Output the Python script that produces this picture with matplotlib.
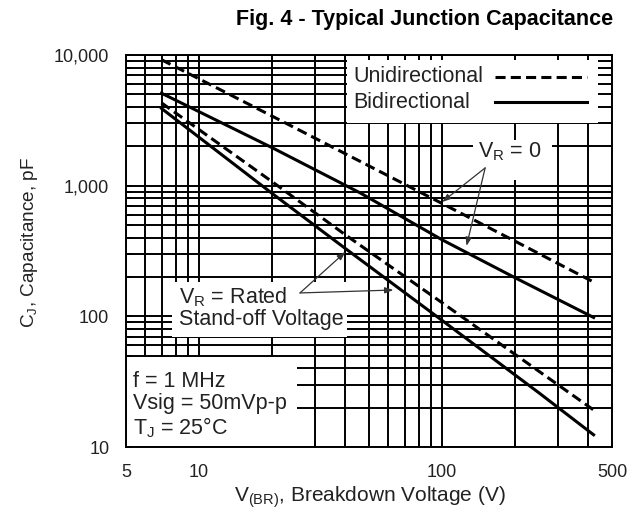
import matplotlib
matplotlib.use('Agg')
import matplotlib.pyplot as plt
from matplotlib.ticker import FixedLocator, NullFormatter
from matplotlib.patches import Rectangle

plt.rcParams['font.family'] = ['Liberation Sans', 'DejaVu Sans']
plt.rcParams['mathtext.default'] = 'regular'

# breakdown voltage (V) and junction capacitance (pF)
uni_v0_v = [7, 20, 100, 200, 420]
uni_v0_c = [9200, 3400, 730, 375, 183]
bi_v0_v = [7, 20, 46, 100, 200, 420]
bi_v0_c = [5100, 1950, 880, 385, 197, 98]
uni_rated_v = [7, 20, 40, 100, 250, 420]
uni_rated_c = [4300, 1070, 420, 127, 38, 19.2]
bi_rated_v = [7, 20, 40, 100, 250, 420]
bi_rated_c = [3900, 870, 330, 93, 26, 12.4]

x_major = [5, 10, 100, 500]
x_labels = ['5', '10', '100', '500']
y_major = [10, 100, 1000, 10000]
y_labels = ['10', '100', '1,000', '10,000']
x_minor = [6, 7, 8, 9, 20, 30, 40, 50, 60, 70, 80, 90, 200, 300, 400]
y_minor = [m * d for d in (10, 100, 1000) for m in range(2, 10)]

fig = plt.figure(figsize=(6.36, 5.15), dpi=100)
ax = fig.add_axes([126/636, 68/515, 486/636, 392/515])
ax.set_xscale('log')
ax.set_yscale('log')
ax.set_xlim(5, 500)
ax.set_ylim(10, 10000)

ax.xaxis.set_major_locator(FixedLocator(x_major))
ax.xaxis.set_minor_locator(FixedLocator(x_minor))
ax.yaxis.set_major_locator(FixedLocator(y_major))
ax.yaxis.set_minor_locator(FixedLocator(y_minor))
ax.set_xticklabels(x_labels)
ax.set_yticklabels(y_labels)
ax.xaxis.set_minor_formatter(NullFormatter())
ax.yaxis.set_minor_formatter(NullFormatter())
ax.tick_params(which='both', direction='in', length=4, width=1.3, color='black')
ax.tick_params(axis='x', which='major', pad=12, labelsize=13, labelcolor='#222')
ax.tick_params(axis='y', which='major', pad=12, labelsize=13, labelcolor='#222')

ax.set_axisbelow(True)
ax.grid(which='both', color='black', lw=1.4)
for s in ax.spines.values():
    s.set_linewidth(1.4)

# white boxes behind the labels hide the grid
for (x0, x1, y0, y1) in [(0.455, 0.971, 0.827, 0.987),
                         (0.714, 0.877, 0.681, 0.783),
                         (0.095, 0.455, 0.281, 0.421),
                         (0.003, 0.352, 0.003, 0.230)]:
    ax.add_patch(Rectangle((x0, y0), x1 - x0, y1 - y0, transform=ax.transAxes,
                           facecolor='white', edgecolor='none', zorder=1))

dash = (3.3, 1.7)
ax.plot(uni_v0_v, uni_v0_c, color='black', lw=2.2, dashes=dash, zorder=3)
ax.plot(bi_v0_v, bi_v0_c, color='black', lw=2.2, zorder=3)
ax.plot(uni_rated_v, uni_rated_c, color='black', lw=2.2, dashes=dash, zorder=3)
ax.plot(bi_rated_v, bi_rated_c, color='black', lw=2.2, zorder=3)

txt = dict(fontsize=15.5, color='#222', va='center', transform=ax.transAxes, zorder=4)

# legend, text left and line sample right
ax.text(0.467, 0.944, 'Unidirectional', **txt)
ax.text(0.467, 0.880, 'Bidirectional', **txt)
ax.plot([0.759, 0.949], [0.944, 0.944], transform=ax.transAxes, color='black',
        lw=2.2, dashes=dash, zorder=4)
ax.plot([0.759, 0.949], [0.880, 0.880], transform=ax.transAxes, color='black',
        lw=2.2, zorder=4)

ax.text(0.724, 0.753, 'V$_{R}$ = 0', **txt)
ax.text(0.109, 0.383, 'V$_{R}$ = Rated', **txt)
ax.text(0.109, 0.324, 'Stand-off Voltage', **txt)
ax.text(0.0144, 0.166, 'f = 1 MHz', **txt)
ax.text(0.0144, 0.110, 'Vsig = 50mVp-p', **txt)
ax.text(0.0144, 0.048, 'T$_{J}$ = 25\u00b0C', **txt)

arrow = dict(arrowstyle='-|>,head_length=0.5,head_width=0.18', color='#333', lw=0.9,
             shrinkA=0, shrinkB=0)
for xy in [(100, 750), (126, 346)]:
    ax.annotate('', xy=xy, xytext=(0.739, 0.712), textcoords='axes fraction',
                arrowprops=arrow, zorder=4)
for xy in [(40, 311), (63, 159)]:
    ax.annotate('', xy=xy, xytext=(0.358, 0.393), textcoords='axes fraction',
                arrowprops=arrow, zorder=4)

fig.text(613/636, 1 - 20/515, 'Fig. 4 - Typical Junction Capacitance', ha='right',
         va='center', fontsize=15.5, fontweight='bold')
fig.text(30/636, 1 - 242/515, 'C$_{J}$, Capacitance, pF', rotation=90, ha='center',
         va='center', fontsize=13.7, color='#222')
fig.text(370/636, 1 - 497/515, 'V$_{(BR)}$, Breakdown Voltage (V)', ha='center',
         va='center', fontsize=15, color='#222')

fig.savefig('out.png', dpi=100)
